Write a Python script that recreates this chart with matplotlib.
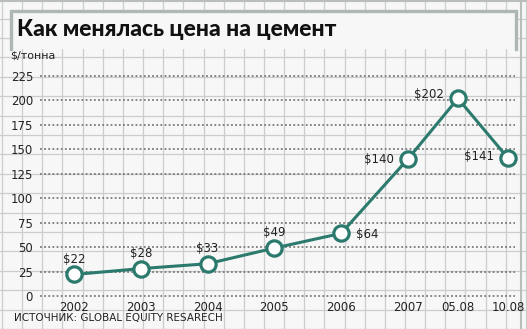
import matplotlib.pyplot as plt
import numpy as np
from matplotlib.patches import Rectangle

# цена на цемент, $/тонна
periods = ['2002', '2003', '2004', '2005', '2006', '2007', '05.08', '10.08']
prices = [22, 28, 33, 49, 64, 140, 202, 141]
yticks = [0, 25, 50, 75, 100, 125, 150, 175, 200, 225]

TEAL = '#2b7a6d'
W, H = 527, 329

plt.rcParams['font.family'] = ['Liberation Sans Narrow', 'DejaVu Sans']

fig = plt.figure(figsize=(W / 100, H / 100), dpi=100)
fig.patch.set_facecolor('#f7f7f7')

# graph-paper background, in pixel coordinates
bg = fig.add_axes([0, 0, 1, 1], zorder=-1)
bg.set_xlim(0, W)
bg.set_ylim(H, 0)
bg.axis('off')
for x in np.arange(2, W, 20.15):
    bg.axvline(x, color='#c9cdcb', lw=0.9)
for y in np.arange(18.5, H, 19.4):
    bg.axhline(y, color='#c9cdcb', lw=0.9)
bg.axhline(1, color='#b9bebc', lw=1.5)
bg.axvline(521, color='#b9bebc', lw=1.5)

# title box
bg.add_patch(Rectangle((10, 10), 507, 39, facecolor='#f7f7f7', edgecolor='none', zorder=3))
bg.plot([11, 11, 516, 516], [49, 11, 11, 49], color='#aeb8b3', lw=2.4, zorder=4,
        solid_joinstyle='miter')
bg.text(17, 29, 'Как менялась цена на цемент', fontsize=16.5, fontweight='black',
        family=['Lato', 'DejaVu Sans'], va='center', ha='left', color='#111111', zorder=5)

bg.text(10, 56, '$/тонна', fontsize=8, va='center', ha='left', color='#222222')
bg.text(14, 318, 'ИСТОЧНИК: GLOBAL EQUITY RESARECH', fontsize=7.5, va='center',
        ha='left', color='#222222')

# x layout: one unit per year, the two 2008 points 0.75 apart
steps = [0, 1, 1, 1, 1, 1, 0.75, 0.75]
xs = np.cumsum(steps)

ax = fig.add_axes([40 / W, 1 - 300 / H, 475 / W, 240 / H])
ax.patch.set_alpha(0)
px_x = (xs[-1] - xs[0]) / (508 - 74)
ax.set_xlim(xs[0] - (74 - 40) * px_x, xs[-1] + (515 - 508) * px_x)
px_y = 225 / (296 - 76)
ax.set_ylim(-(300 - 296) * px_y, 225 + (76 - 60) * px_y)
for s in ax.spines.values():
    s.set_visible(False)

for t in yticks:
    ax.axhline(t, color='#7a7a7a', lw=1.3, linestyle=(0, (1, 1.3)), zorder=1)

ax.set_yticks(yticks)
ax.set_yticklabels([str(t) for t in yticks], fontsize=8.5, color='#222222')
ax.set_xticks(xs)
ax.set_xticklabels(periods, fontsize=8.5, color='#222222')
ax.tick_params(length=0)
ax.tick_params(axis='y', pad=5)
ax.tick_params(axis='x', pad=1)

ax.plot(xs, prices, color=TEAL, lw=2.2, zorder=3, clip_on=False)
ax.plot(xs, prices, 'o', color=TEAL, markerfacecolor='white', markersize=11,
        markeredgewidth=2.3, zorder=4, clip_on=False)

# value labels: offsets in points from each marker
offsets = [(0, 11, 'center'), (0, 11, 'center'), (0, 11, 'center'), (0, 11, 'center'),
           (11, -1, 'left'), (-10, 0, 'right'), (-10, 3, 'right'), (-10, 1, 'right')]
for x, v, (dx, dy, ha) in zip(xs, prices, offsets):
    ax.annotate(f'${v}', (x, v), xytext=(dx, dy), textcoords='offset points',
                ha=ha, va='center', fontsize=8.5, color='#222222', zorder=5)

fig.savefig('out.png', dpi=100, facecolor=fig.get_facecolor())
